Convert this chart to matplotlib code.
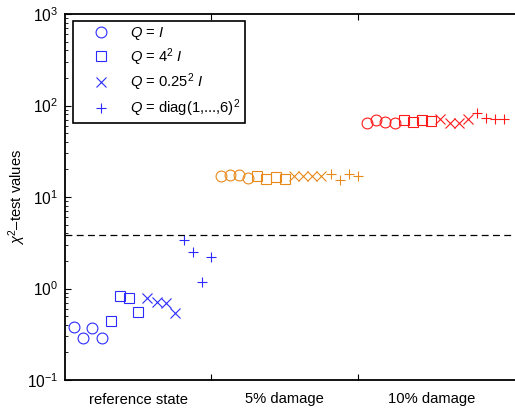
import matplotlib
matplotlib.use("Agg")
import matplotlib.pyplot as plt
import numpy as np

plt.rcParams['font.family'] = ['Liberation Sans', 'DejaVu Sans']
plt.rcParams['mathtext.fontset'] = 'custom'
plt.rcParams['mathtext.rm'] = 'Liberation Sans'
plt.rcParams['mathtext.it'] = 'Liberation Sans:italic'
plt.rcParams['mathtext.bf'] = 'Liberation Sans:bold'

# ---- data ----
categories = ['reference state', '5% damage', '10% damage']
group_colors = ['#2B2BFF', '#E88A1A', '#FF1A1A']
series_labels = [r'$Q$ = $I$', r'$Q$ = 4$^2$ $I$', r'$Q$ = 0.25$^2$ $I$',
                 r'$Q$ = diag(1,...,6)$^2$']
series_markers = ['o', 's', 'x', '+']
series_msize = [7.8, 7.0, 7.8, 7.6]

# values[group][series] -> 4 repetitions
q_identity = [[0.38, 0.29, 0.37, 0.29],
              [16.9, 17.5, 17.5, 16.0],
              [65.0, 69.2, 66.7, 65.0]]
q_4sq = [[0.44, 0.83, 0.79, 0.55],
         [17.0, 15.6, 16.6, 15.6],
         [69.5, 66.7, 69.5, 68.5]]
q_025sq = [[0.79, 0.71, 0.70, 0.54],
           [16.9, 16.8, 17.0, 16.9],
           [70.7, 65.0, 65.0, 70.7]]
q_diag = [[3.4, 2.53, 1.18, 2.23],
          [17.8, 15.3, 17.8, 16.9],
          [82.4, 73.6, 70.7, 70.7]]
series_values = [q_identity, q_4sq, q_025sq, q_diag]
threshold = 3.84

fig = plt.figure(figsize=(5.15, 4.12), dpi=100)
ax = fig.add_axes([65/515, 32/412, 450/515, 366/412])

n_rep = 4
n_per_group = len(series_values) * n_rep
for g in range(len(categories)):
    for s, vals in enumerate(series_values):
        xs = [g + (s * n_rep + j + 1) / n_per_group for j in range(n_rep)]
        ax.plot(xs, vals[g], linestyle='none', marker=series_markers[s],
                markersize=series_msize[s], markerfacecolor='none',
                markeredgecolor=group_colors[g], markeredgewidth=0.8)

ax.axhline(threshold, color='black', linewidth=0.9, dashes=(5.5, 3.5))

ax.set_yscale('log')
ax.set_ylim(0.1, 1000)
ax.set_xlim(0, 3.072)

ax.set_xticks([1, 2])
ax.set_xticklabels([])
ax.set_xticks([0.5, 1.5, 2.5], minor=True)
ax.set_xticklabels(categories, minor=True)
ax.tick_params(axis='x', which='minor', length=0, pad=9, labelsize=10.6)
ax.tick_params(axis='x', which='major', direction='in', length=4, top=True, width=0.8)
ax.tick_params(axis='y', which='both', direction='in', right=False, labelsize=11.2)
ax.tick_params(axis='y', which='major', length=4, width=0.8, pad=5)
ax.tick_params(axis='y', which='minor', length=2.5, width=0.6)

for sp in ['left', 'bottom', 'top']:
    ax.spines[sp].set_linewidth(1.3)
ax.spines['right'].set_visible(False)

ax.set_ylabel(r'$\chi^2$–test values', fontsize=10.6)
ax.yaxis.set_label_coords(-0.083, 0.5)

handles = [plt.Line2D([], [], linestyle='none', marker=series_markers[s],
                      markersize=series_msize[s], markerfacecolor='none',
                      markeredgecolor='#2B2BFF', markeredgewidth=0.8)
           for s in range(len(series_labels))]
leg = ax.legend(handles, series_labels, loc='upper left',
                bbox_to_anchor=(0.017, 0.982), borderaxespad=0,
                fancybox=False, framealpha=1, edgecolor='black',
                fontsize=10.6, handlelength=3.3, handletextpad=0.3,
                labelspacing=0.27, borderpad=0.3)
leg.get_frame().set_linewidth(1.2)

fig.savefig('out.png', dpi=100)
